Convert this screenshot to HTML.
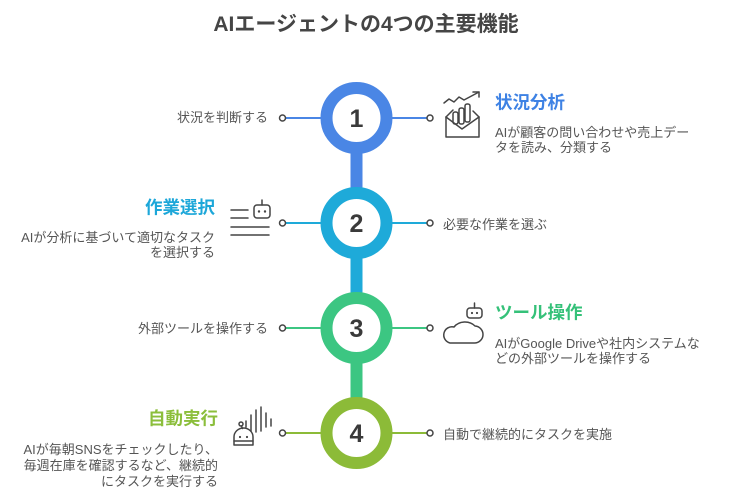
<!DOCTYPE html>
<html>
<head>
<meta charset="utf-8">
<style>
html,body{margin:0;padding:0;background:#fff;}
body{width:749px;height:503px;overflow:hidden;}
svg{display:block;}
text{font-family:"Liberation Sans","Noto Sans CJK JP",sans-serif;}
.d{font-size:13px;fill:#555;}
.t{font-size:17.5px;font-weight:bold;}
.n{font-size:25px;font-weight:bold;fill:#3a3a3a;}
</style>
</head>
<body>
<svg width="749" height="503" viewBox="0 0 749 503" xmlns="http://www.w3.org/2000/svg">
<rect width="749" height="503" fill="#fff"/>
<text x="366" y="31" text-anchor="middle" style="font-size:21px;font-weight:bold;fill:#454545">AIエージェントの4つの主要機能</text>

<!-- vertical bars -->
<rect x="350.5" y="150" width="12" height="40" fill="#4A86E5"/>
<rect x="350.5" y="255" width="12" height="40" fill="#1EAAD9"/>
<rect x="350.5" y="360" width="12" height="40" fill="#3CC682"/>

<!-- connectors -->
<g stroke-width="2">
<line x1="285" y1="118" x2="322" y2="118" stroke="#4A86E5"/>
<line x1="391" y1="118" x2="427" y2="118" stroke="#4A86E5"/>
<line x1="285" y1="223" x2="322" y2="223" stroke="#1EAAD9"/>
<line x1="391" y1="223" x2="427" y2="223" stroke="#1EAAD9"/>
<line x1="285" y1="328" x2="322" y2="328" stroke="#3CC682"/>
<line x1="391" y1="328" x2="427" y2="328" stroke="#3CC682"/>
<line x1="285" y1="433" x2="322" y2="433" stroke="#8CBB38"/>
<line x1="391" y1="433" x2="427" y2="433" stroke="#8CBB38"/>
</g>
<g fill="#fff" stroke="#444" stroke-width="1.5">
<circle cx="282.5" cy="118" r="3"/><circle cx="430" cy="118" r="3"/>
<circle cx="282.5" cy="223" r="3"/><circle cx="430" cy="223" r="3"/>
<circle cx="282.5" cy="328" r="3"/><circle cx="430" cy="328" r="3"/>
<circle cx="282.5" cy="433" r="3"/><circle cx="430" cy="433" r="3"/>
</g>

<!-- circles -->
<circle cx="356.5" cy="118" r="30" fill="#fff" stroke="#4A86E5" stroke-width="12"/>
<circle cx="356.5" cy="223" r="30" fill="#fff" stroke="#1EAAD9" stroke-width="12"/>
<circle cx="356.5" cy="328" r="30" fill="#fff" stroke="#3CC682" stroke-width="12"/>
<circle cx="356.5" cy="433" r="30" fill="#fff" stroke="#8CBB38" stroke-width="12"/>
<text class="n" x="356.5" y="127" text-anchor="middle">1</text>
<text class="n" x="356.5" y="232" text-anchor="middle">2</text>
<text class="n" x="356.5" y="337" text-anchor="middle">3</text>
<text class="n" x="356.5" y="442" text-anchor="middle">4</text>

<!-- item 1 -->
<text class="d" x="268" y="122" text-anchor="end">状況を判断する</text>
<text class="t" x="495" y="108.5" fill="#3E82E4">状況分析</text>
<text class="d" x="495" y="137">AIが顧客の問い合わせや売上デー</text>
<text class="d" x="495" y="152">タを読み、分類する</text>
<g fill="none" stroke="#444" stroke-width="1.5" stroke-linejoin="round" stroke-linecap="round">
<polyline points="444,103 449,99 454,102 459,97 464,100 479,92"/>
<polyline points="473,92 479,92 479,97"/>
<polyline points="446,117 446,137 479,137 479,117"/>
<polyline points="446,117 462,129 479,117"/>
<line x1="446" y1="117" x2="453" y2="110"/>
<line x1="479" y1="117" x2="473" y2="111"/>
<rect x="453" y="112" width="5" height="12" rx="2"/>
<rect x="459" y="108" width="5" height="16" rx="2"/>
<rect x="465" y="104" width="5" height="18" rx="2"/>
</g>

<!-- item 2 -->
<text class="t" x="215" y="213.5" text-anchor="end" fill="#1DA7D9">作業選択</text>
<text class="d" x="215" y="242" text-anchor="end">AIが分析に基づいて適切なタスク</text>
<text class="d" x="215" y="257" text-anchor="end">を選択する</text>
<text class="d" x="443" y="229">必要な作業を選ぶ</text>
<g fill="none" stroke="#444" stroke-width="1.5" stroke-linecap="round">
<line x1="231" y1="210" x2="248" y2="210"/>
<line x1="231" y1="218" x2="248" y2="218"/>
<line x1="231" y1="227" x2="269" y2="227"/>
<line x1="231" y1="235" x2="269" y2="235"/>
<rect x="254" y="205" width="16" height="13" rx="3"/>
<line x1="262" y1="200" x2="262" y2="205"/>
</g>
<circle cx="259" cy="211.5" r="1.2" fill="#444"/>
<circle cx="265" cy="211.5" r="1.2" fill="#444"/>

<!-- item 3 -->
<text class="d" x="268" y="333" text-anchor="end">外部ツールを操作する</text>
<text class="t" x="495" y="318.5" fill="#35C179">ツール操作</text>
<text class="d" x="495" y="348">AIがGoogle Driveや社内システムな</text>
<text class="d" x="495" y="363">どの外部ツールを操作する</text>
<g fill="none" stroke="#444" stroke-width="1.5" stroke-linejoin="round" stroke-linecap="round">
<path d="M450,343 H474 A8.5,8.5 0 0 0 475,326 A13,11 0 0 0 454,327 A8,8 0 0 0 450,343 Z"/>
<rect x="467" y="308" width="15" height="10" rx="3" fill="#fff"/>
<line x1="474.5" y1="303" x2="474.5" y2="308"/>
</g>
<circle cx="472" cy="313" r="1.1" fill="#444"/>
<circle cx="477" cy="313" r="1.1" fill="#444"/>

<!-- item 4 -->
<text class="t" x="218" y="424.5" text-anchor="end" fill="#8BBE3B">自動実行</text>
<text class="d" x="218" y="454" text-anchor="end">AIが毎朝SNSをチェックしたり、</text>
<text class="d" x="218" y="470" text-anchor="end">毎週在庫を確認するなど、継続的</text>
<text class="d" x="218" y="486" text-anchor="end">にタスクを実行する</text>
<text class="d" x="443" y="439">自動で継続的にタスクを実施</text>
<g fill="none" stroke="#444" stroke-width="1.5" stroke-linecap="round" stroke-linejoin="round">
<path d="M234,445 V437 A9.5,9 0 0 1 253,437 V445 Z"/>
<line x1="234" y1="441" x2="253" y2="441"/>
<circle cx="241" cy="424" r="2"/>
<line x1="241.5" y1="426" x2="242.5" y2="428.5"/>
<line x1="246" y1="421" x2="246" y2="427"/>
<line x1="251" y1="415" x2="251" y2="431"/>
<line x1="256" y1="410" x2="256" y2="432"/>
<line x1="261" y1="407" x2="261" y2="431"/>
<line x1="266" y1="413" x2="266" y2="427"/>
<line x1="271" y1="419" x2="271" y2="426"/>
</g>
<circle cx="240" cy="437" r="1.1" fill="#444"/>
<circle cx="247" cy="437" r="1.1" fill="#444"/>
</svg>
</body>
</html>
